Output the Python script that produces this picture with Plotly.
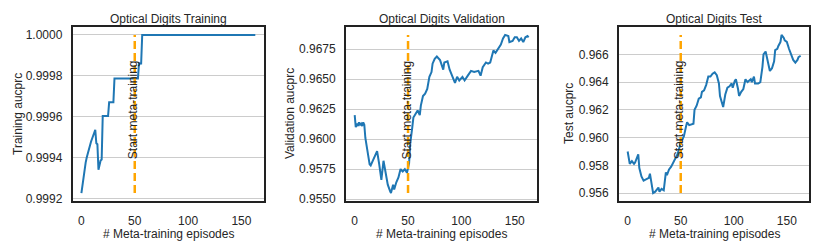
import plotly.graph_objects as go

# ---------------- data ----------------
TITLES = ["Optical Digits Training", "Optical Digits Validation", "Optical Digits Test"]
Y_LABELS = ["Training aucprc", "Validation aucprc", "Test aucprc"]
X_LABEL = "# Meta-training episodes"
META_START = 50
VLINE_TEXT = "Start meta-training"
X_TICKS = [0, 50, 100, 150]

train_ep = [0, 1, 2, 3, 4, 5, 6, 7, 8, 9, 10, 11, 12, 13, 14, 15, 16, 17, 18, 19,
            20, 25, 26, 30, 31, 53, 54, 56, 57, 163]
train_val = [0.999226, 0.999270, 0.999310, 0.999345, 0.999375, 0.999400, 0.999422,
             0.999442, 0.999460, 0.999477, 0.999492, 0.999506, 0.999518, 0.999535,
             0.999470, 0.999465, 0.999340, 0.999362, 0.999385, 0.999390,
             0.999603, 0.999603, 0.999670, 0.999670, 0.999787, 0.999787,
             0.999860, 0.999860, 1.000000, 1.000000]

valid_ep = [0, 1, 2, 3, 4, 5, 6, 7, 8, 9, 10, 12, 14, 15, 17, 19, 21, 23, 25, 27,
            29, 31, 33, 34, 36, 37, 39, 41, 43, 45, 47, 49, 51, 52, 54, 55, 57, 59,
            61, 62, 64, 66, 68, 70, 72, 73, 75, 77, 80, 83, 84, 87, 89, 91, 93, 94,
            96, 98, 101, 103, 106, 109, 112, 116, 118, 120, 123, 125, 127, 130, 132,
            134, 137, 139, 141, 144, 145, 148, 150, 152, 154, 156, 158, 160, 162, 163]
valid_val = [0.9620, 0.9610, 0.9613, 0.9611, 0.9614, 0.9612, 0.9613, 0.9611, 0.9614,
             0.9612, 0.9601, 0.9590, 0.9579, 0.9578, 0.9582, 0.9586, 0.9590, 0.9579,
             0.9566, 0.9582, 0.9571, 0.9562, 0.9557, 0.9555, 0.9562, 0.9558, 0.9564,
             0.9568, 0.9575, 0.9573, 0.9575, 0.9572, 0.9580, 0.9596, 0.9610, 0.9618,
             0.9621, 0.9624, 0.9620, 0.9628, 0.9636, 0.9638, 0.9642, 0.9652, 0.9656,
             0.9663, 0.9667, 0.9669, 0.9666, 0.9658, 0.9664, 0.9665, 0.9658, 0.9653,
             0.9648, 0.9647, 0.9652, 0.9649, 0.9652, 0.9649, 0.9653, 0.9657, 0.9656,
             0.9657, 0.9653, 0.9660, 0.9664, 0.9663, 0.9664, 0.9674, 0.9672, 0.9675,
             0.9679, 0.9684, 0.9687, 0.9686, 0.9681, 0.9682, 0.9685, 0.9685, 0.9682,
             0.9684, 0.9681, 0.9685, 0.9686, 0.9685]

test_ep = [0, 2, 4, 6, 7, 9, 10, 11, 13, 15, 17, 20, 21, 23, 24, 26, 29, 30, 32, 34,
           36, 37, 39, 41, 44, 45, 47, 50, 53, 55, 56, 58, 61, 62, 63, 65, 67, 69, 70,
           72, 74, 76, 78, 80, 82, 84, 86, 87, 90, 92, 94, 96, 98, 99, 101, 102, 104,
           105, 107, 109, 111, 113, 116, 117, 119, 120, 123, 125, 127, 128, 130, 131,
           133, 134, 136, 138, 139, 141, 142, 144, 145, 147, 148, 150, 152, 153, 155,
           156, 158, 160, 161, 163]
test_val = [0.9590, 0.9581, 0.9583, 0.9581, 0.9582, 0.9587, 0.9588, 0.9578, 0.9572,
            0.9569, 0.9570, 0.9571, 0.9574, 0.9566, 0.9560, 0.9561, 0.9564, 0.9561,
            0.9563, 0.9562, 0.9575, 0.9573, 0.9577, 0.9579, 0.9583, 0.9585, 0.9588,
            0.9596, 0.9601, 0.9608, 0.9611, 0.9609, 0.9610, 0.9610, 0.9620, 0.9623,
            0.9628, 0.9629, 0.9633, 0.9634, 0.9638, 0.9644, 0.9644, 0.9646, 0.9647,
            0.9645, 0.9639, 0.9630, 0.9622, 0.9631, 0.9636, 0.9637, 0.9639, 0.9636,
            0.9641, 0.9642, 0.9635, 0.9630, 0.9633, 0.9635, 0.9642, 0.9640, 0.9642,
            0.9640, 0.9644, 0.9639, 0.9639, 0.9640, 0.9651, 0.9660, 0.9662, 0.9658,
            0.9652, 0.9648, 0.9650, 0.9655, 0.9663, 0.9664, 0.9666, 0.9669, 0.9674,
            0.9672, 0.9670, 0.9669, 0.9664, 0.9662, 0.9658, 0.9656, 0.9654, 0.9656,
            0.9658, 0.9659]

train_yticks = [0.9992, 0.9994, 0.9996, 0.9998, 1.0000]
valid_yticks = [0.9550, 0.9575, 0.9600, 0.9625, 0.9650, 0.9675]
test_yticks = [0.956, 0.958, 0.960, 0.962, 0.964, 0.966, 0.968]

# ---------------- style / layout ----------------
W, H = 830, 252
FONT = "Liberation Sans, Arial, sans-serif"
TXT = "#262626"
LINE_BLUE = "#1f77b4"
ORANGE = "#FFA500"
FRAME = "#222222"
GRID = "#cccccc"

# pixel boxes of the three plot areas (left, right)
boxes = [(72.7, 264.0), (346.0, 537.3), (619.0, 809.3)]
top_px, bot_px = 27.0, 201.0
ylabel_x_px = [18, 290, 569]
tickfmt = [".4f", ".4f", ".3f"]

series = [(train_ep, train_val, train_yticks),
          (valid_ep, valid_val, valid_yticks),
          (test_ep, test_val, test_yticks)]

fig = go.Figure()
layout = dict(
    width=W, height=H,
    margin=dict(l=0, r=0, t=0, b=0, pad=0),
    paper_bgcolor="white", plot_bgcolor="white",
    showlegend=False,
    font=dict(family=FONT, size=12, color=TXT),
)
annotations = []
shapes = []

xmin_all = min(min(s[0]) for s in series)
xmax_all = max(max(s[0]) for s in series)
xpad = 0.05 * (xmax_all - xmin_all)

for i, (ep, val, yt) in enumerate(series):
    n = "" if i == 0 else str(i + 1)
    xa, ya = "x" + n, "y" + n
    l, r = boxes[i]
    fig.add_trace(go.Scatter(x=ep, y=val, mode="lines", xaxis=xa, yaxis=ya,
                             line=dict(color=LINE_BLUE, width=2), hoverinfo="skip"))
    vmin, vmax = min(val), max(val)
    ypad = 0.05 * (vmax - vmin)
    layout["xaxis" + n] = dict(
        domain=[l / W, r / W], anchor=ya, range=[xmin_all - xpad, xmax_all + xpad],
        tickvals=X_TICKS, ticks="", showgrid=False, zeroline=False, automargin=False,
        showline=True, mirror=True, linecolor=FRAME, linewidth=1.8,
        tickfont=dict(size=12, color=TXT), ticklabelstandoff=8,
    )
    layout["yaxis" + n] = dict(
        domain=[1 - bot_px / H, 1 - top_px / H], anchor=xa,
        range=[vmin - ypad, vmax + ypad], automargin=False,
        tickvals=yt, tickformat=tickfmt[i], ticks="",
        showgrid=True, gridcolor=GRID, gridwidth=1, zeroline=False,
        showline=True, mirror=True, linecolor=FRAME, linewidth=1.8,
        tickfont=dict(size=12, color=TXT), ticklabelstandoff=6,
    )
    # vertical dashed marker
    shapes.append(dict(type="line", xref=xa, yref=ya, x0=META_START, x1=META_START,
                       y0=vmin, y1=vmax, line=dict(color=ORANGE, width=2.5, dash="8px,4px")))
    annotations.append(dict(xref=xa, yref=ya, x=META_START, y=vmin + 0.2 * (vmax - vmin),
                            text=VLINE_TEXT, textangle=-90, showarrow=False,
                            xanchor="center", yanchor="bottom", xshift=-1.5,
                            font=dict(size=12, color=TXT)))
    # subplot title
    cx = (l + r) / 2
    annotations.append(dict(xref="paper", yref="paper", x=cx / W, y=1 - 19 / H,
                            text=TITLES[i], showarrow=False, xanchor="center",
                            yanchor="middle", font=dict(size=12, color=TXT)))
    # x axis title
    annotations.append(dict(xref="paper", yref="paper", x=cx / W, y=1 - 233.5 / H,
                            text=X_LABEL, showarrow=False, xanchor="center",
                            yanchor="middle", font=dict(size=12, color=TXT)))
    # y axis title
    annotations.append(dict(xref="paper", yref="paper", x=ylabel_x_px[i] / W,
                            y=1 - ((top_px + bot_px) / 2) / H,
                            text=Y_LABELS[i], textangle=-90, showarrow=False,
                            xanchor="center", yanchor="middle",
                            font=dict(size=12, color=TXT)))

layout["annotations"] = annotations
layout["shapes"] = shapes
fig.update_layout(**layout)
fig.write_html("out.html", config={"displayModeBar": False},
               post_script="document.body.style.margin='0';document.body.style.padding='0';")
